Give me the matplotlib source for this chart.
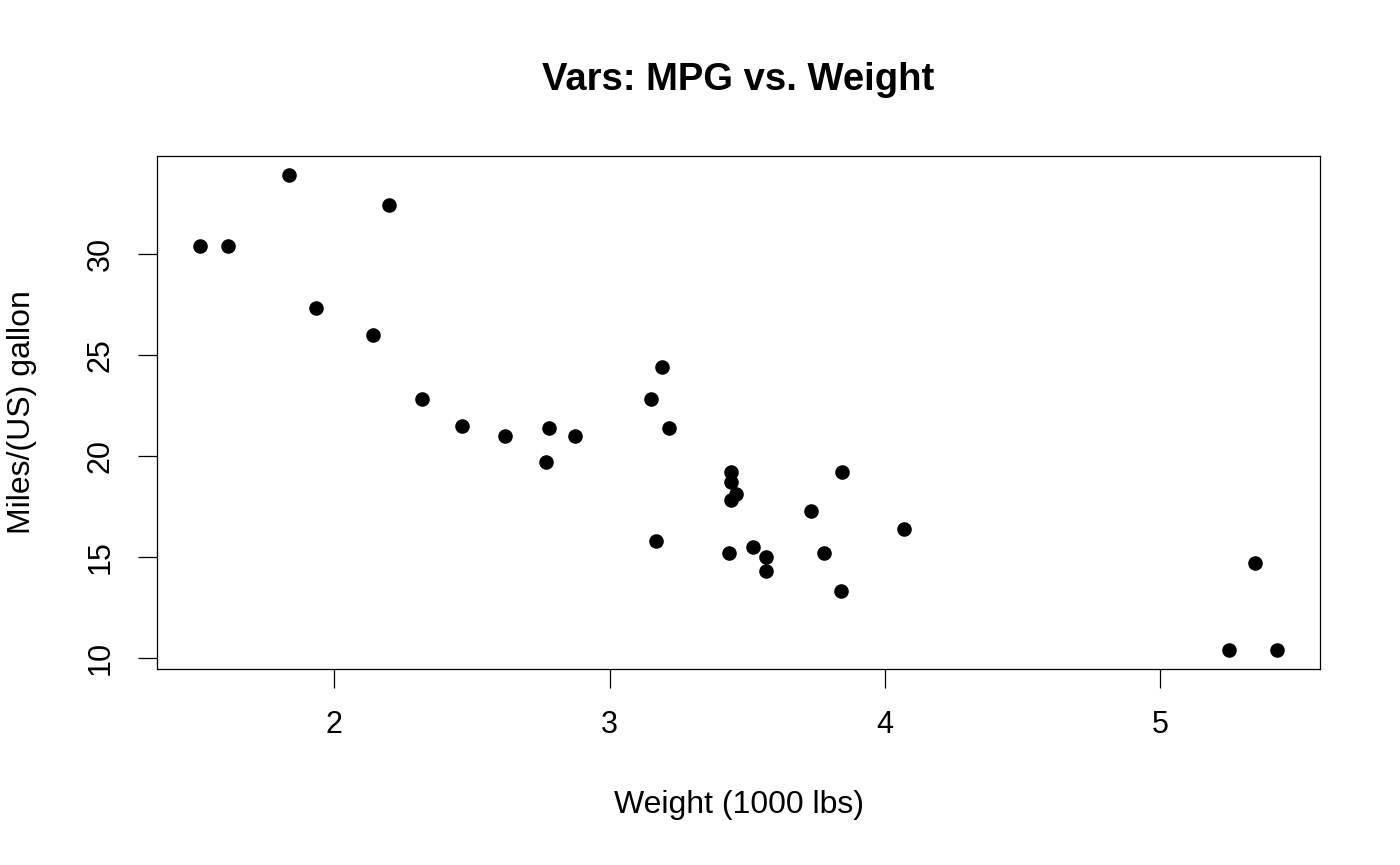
import matplotlib.pyplot as plt

# mtcars: weight (1000 lbs) and miles per gallon
wt = [2.620, 2.875, 2.320, 3.215, 3.440, 3.460, 3.570, 3.190, 3.150, 3.440, 3.440,
      4.070, 3.730, 3.780, 5.250, 5.424, 5.345, 2.200, 1.615, 1.835, 2.465, 3.520,
      3.435, 3.840, 3.845, 1.935, 2.140, 1.513, 3.170, 2.770, 3.570, 2.780]
mpg = [21.0, 21.0, 22.8, 21.4, 18.7, 18.1, 14.3, 24.4, 22.8, 19.2, 17.8,
       16.4, 17.3, 15.2, 10.4, 10.4, 14.7, 32.4, 30.4, 33.9, 21.5, 15.5,
       15.2, 13.3, 19.2, 27.3, 26.0, 30.4, 15.8, 19.7, 15.0, 21.4]
x_ticks = [2, 3, 4, 5]
y_ticks = [10, 15, 20, 25, 30]

plt.rcParams['font.family'] = ['Liberation Sans', 'DejaVu Sans']

fig = plt.figure(figsize=(14, 8.65), dpi=100)
ax = fig.add_axes([157 / 1400, 1 - 669 / 865, (1320 - 157) / 1400, (669 - 156) / 865])

ax.scatter(wt, mpg, s=110, color='black', linewidths=0, zorder=3)

# R style 4% padding on the data range
xr = max(wt) - min(wt)
yr = max(mpg) - min(mpg)
ax.set_xlim(min(wt) - 0.04 * xr, max(wt) + 0.04 * xr)
ax.set_ylim(min(mpg) - 0.04 * yr, max(mpg) + 0.04 * yr)

ax.set_xticks(x_ticks)
ax.set_yticks(y_ticks)
ax.set_xticklabels([str(v) for v in x_ticks])
ax.set_yticklabels([str(v) for v in y_ticks], rotation=90, va='center')
ax.tick_params(direction='out', length=13.7, width=0.9, labelsize=22, pad=16)
for s in ax.spines.values():
    s.set_linewidth(0.9)

ax.set_xlabel('Weight (1000 lbs)', fontsize=23, va='center')
ax.xaxis.set_label_coords(0.5, -(805 - 669) / 513)
ax.set_ylabel('Miles/(US) gallon', fontsize=23, va='center')
ax.yaxis.set_label_coords(-(157 - 22) / 1163, 0.5)

ax.text(0.5, 1 + 76 / 513, 'Vars: MPG vs. Weight', transform=ax.transAxes,
        ha='center', va='center', fontsize=27.5, fontweight='bold')

fig.savefig('out.png', dpi=100)
